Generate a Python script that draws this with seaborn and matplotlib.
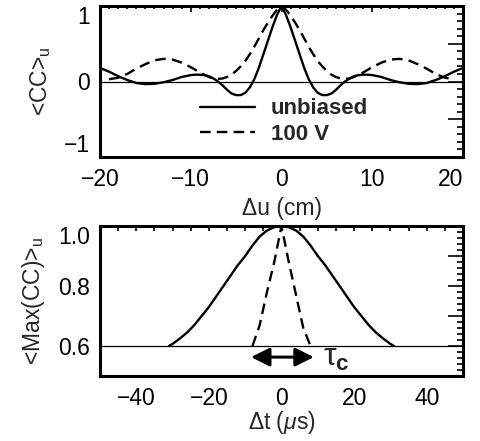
"""Cross-correlation profiles: spatial <CC> and temporal <Max(CC)>."""

import matplotlib
matplotlib.use("Agg")
import matplotlib.pyplot as plt
import pandas as pd
import seaborn as sns
from matplotlib.lines import Line2D
from matplotlib.ticker import FuncFormatter, MultipleLocator

# --- top panel: <CC>_u vs delta-u (cm) ---
du_unbiased = [-20, -19, -18, -17, -16, -15, -14, -13, -12, -11, -10, -9.5, -9, -8.5, -8,
               -7.5, -7, -6.5, -6, -5.5, -5, -4.5, -4, -3.5, -3, -2.5, -2, -1.5, -1, -0.5,
               0, 0.5, 1, 1.5, 2, 2.5, 3, 3.5, 4, 4.5, 5, 5.5, 6, 6.5, 7, 7.5, 8, 8.5, 9,
               9.5, 10, 11, 12, 13, 14, 15, 16, 17, 18, 19, 20]
cc_unbiased = [0.18, 0.13, 0.07, 0.02, -0.02, -0.035, -0.03, -0.01, 0.02, 0.06, 0.085, 0.09,
               0.09, 0.085, 0.07, 0.04, 0.0, -0.05, -0.11, -0.16, -0.18, -0.18, -0.15, -0.08,
               0.03, 0.18, 0.36, 0.54, 0.72, 0.88,
               1.0, 0.88, 0.72, 0.54, 0.36, 0.18, 0.03, -0.08, -0.15, -0.18, -0.18, -0.16,
               -0.11, -0.05, 0.0, 0.04, 0.07, 0.085, 0.09, 0.09, 0.085, 0.06, 0.02, -0.01,
               -0.03, -0.035, -0.02, 0.02, 0.07, 0.13, 0.18]

du_100v = [-19, -18, -17, -16, -15, -14, -13, -12, -11, -10, -9, -8, -7.5, -7, -6.5, -6,
           -5.5, -5, -4.5, -4, -3.5, -3, -2.5, -2, -1.5, -1, -0.5, 0, 0.5, 1, 1.5, 2, 2.5,
           3, 3.5, 4, 4.5, 5, 5.5, 6, 6.5, 7, 7.5, 8, 9, 10, 11, 12, 13, 14, 15, 16, 17,
           18, 19]
cc_100v = [0.03, 0.05, 0.1, 0.17, 0.23, 0.28, 0.3, 0.29, 0.25, 0.19, 0.12, 0.06, 0.04,
           0.035, 0.04, 0.06, 0.09, 0.14, 0.2, 0.27, 0.36, 0.46, 0.57, 0.68, 0.78, 0.87,
           0.95, 1.0, 0.95, 0.87, 0.78, 0.68, 0.57, 0.46, 0.36, 0.27, 0.2, 0.14, 0.09,
           0.06, 0.04, 0.035, 0.04, 0.06, 0.12, 0.19, 0.25, 0.29, 0.3, 0.28, 0.23, 0.17,
           0.1, 0.05, 0.03]

# --- bottom panel: <Max(CC)>_u vs delta-t (us) ---
dt_unbiased = [-31, -30, -28, -26, -24, -22, -20, -18, -16, -14, -12, -10, -8, -6, -4, -2,
               0, 2, 4, 6, 8, 10, 12, 14, 16, 18, 20, 22, 24, 26, 28, 30, 31]
mcc_unbiased = [0.6, 0.607, 0.625, 0.645, 0.67, 0.7, 0.73, 0.765, 0.8, 0.835, 0.87, 0.9,
                0.935, 0.965, 0.985, 0.996, 1.0, 0.996, 0.985, 0.965, 0.935, 0.9, 0.87,
                0.835, 0.8, 0.765, 0.73, 0.7, 0.67, 0.645, 0.625, 0.607, 0.6]

dt_100v = [-8, -6, -4, -2, -1, 0, 1, 2, 4, 6, 8]
mcc_100v = [0.6, 0.67, 0.78, 0.88, 0.94, 1.0, 0.94, 0.88, 0.77, 0.66, 0.6]

tau_c_span = [-8.4, 8.9]
tau_c_level = 0.563

sns.set_style("white")
plt.rcParams["font.family"] = ["Liberation Sans", "DejaVu Sans"]
plt.rcParams["mathtext.fontset"] = "custom"
plt.rcParams["mathtext.rm"] = "Liberation Sans"
plt.rcParams["mathtext.it"] = "Liberation Sans:italic"
plt.rcParams["mathtext.bf"] = "Liberation Sans:bold"

W, H = 480, 441
DASH = (0, (4.5, 2.6))
fig = plt.figure(figsize=(W / 100, H / 100), dpi=100)
ax1 = fig.add_axes([100 / W, 1 - 157 / H, 363 / W, 151 / H])
ax2 = fig.add_axes([100 / W, 1 - 376 / H, 363 / W, 150 / H])

top_a = pd.DataFrame({"du": du_unbiased, "cc": cc_unbiased})
top_b = pd.DataFrame({"du": du_100v, "cc": cc_100v})
sns.lineplot(data=top_a, x="du", y="cc", ax=ax1, color="black", lw=1.7, sort=False)
sns.lineplot(data=top_b, x="du", y="cc", ax=ax1, color="black", lw=1.7, sort=False,
             linestyle=DASH)
ax1.axhline(0, color="black", lw=0.9)

bot_a = pd.DataFrame({"dt": dt_unbiased, "m": mcc_unbiased})
bot_b = pd.DataFrame({"dt": dt_100v, "m": mcc_100v})
sns.lineplot(data=bot_a, x="dt", y="m", ax=ax2, color="black", lw=1.7, sort=False)
sns.lineplot(data=bot_b, x="dt", y="m", ax=ax2, color="black", lw=1.7, sort=False,
             linestyle=DASH)
ax2.axhline(0.6, color="black", lw=0.9)

ax2.annotate("", xy=(tau_c_span[0], tau_c_level), xytext=(tau_c_span[1], tau_c_level),
             arrowprops=dict(arrowstyle="<|-|>", color="black", lw=2.2,
                             mutation_scale=28, shrinkA=0, shrinkB=0))
ax2.text(11.5, tau_c_level - 0.003, "\u03c4" + r"$_{\mathbf{c}}$", fontsize=23,
         ha="left", va="center")

handles = [Line2D([], [], color="black", lw=1.7),
           Line2D([], [], color="black", lw=1.7, linestyle=DASH)]
ax1.legend(handles, ["unbiased", "100 V"], loc="center left",
           bbox_to_anchor=(0.275, 0.235), frameon=False, borderpad=0, borderaxespad=0,
           handlelength=2.5, handletextpad=0.7, labelspacing=0.2,
           prop=dict(weight="bold", size=16))

ax1.set_xlim(-20, 20)
ax1.set_ylim(-1, 1)
ax2.set_xlim(-50, 50)
ax2.set_ylim(0.5, 1.0)


def int_label(v, pos):
    return f"{int(round(v))}".replace("-", "\u2212")


ax1.xaxis.set_major_locator(MultipleLocator(10))
ax1.xaxis.set_minor_locator(MultipleLocator(1))
ax1.yaxis.set_major_locator(MultipleLocator(0.5))
ax1.yaxis.set_minor_locator(MultipleLocator(0.1))
ax1.yaxis.set_major_formatter(FuncFormatter(
    lambda v, p: "" if abs(v - round(v)) > 1e-6 else int_label(v, p)))
ax1.xaxis.set_major_formatter(FuncFormatter(int_label))

ax2.xaxis.set_major_locator(MultipleLocator(20))
ax2.xaxis.set_minor_locator(MultipleLocator(5))
ax2.yaxis.set_major_locator(MultipleLocator(0.1))
ax2.yaxis.set_minor_locator(MultipleLocator(0.02))
ax2.yaxis.set_major_formatter(FuncFormatter(
    lambda v, p: f"{v:.1f}" if round(v * 10) % 2 == 0 else ""))
ax2.xaxis.set_major_formatter(FuncFormatter(int_label))

for ax in (ax1, ax2):
    for s in ax.spines.values():
        s.set_linewidth(2.2)
        s.set_color("black")
    ax.tick_params(which="both", direction="in", top=True, right=True, width=1.2,
                   colors="black", labelsize=16.5)
    ax.tick_params(axis="x", which="major", pad=8)
    ax.tick_params(axis="y", which="major", pad=7)

ax1.tick_params(axis="x", which="major", length=4.5)
ax1.tick_params(axis="x", which="minor", length=2.2)
ax1.tick_params(axis="y", which="major", length=11)
ax1.tick_params(axis="y", which="minor", length=4.5)
ax2.tick_params(axis="x", which="both", length=3.6)
ax2.tick_params(axis="y", which="major", length=11)
ax2.tick_params(axis="y", which="minor", length=4.5)

ax1.set_xlabel("\u0394u (cm)", fontsize=16.5, labelpad=4)
ax1.set_ylabel(r"<CC>$_{\mathrm{u}}$", fontsize=16.5, labelpad=8)
ax2.set_xlabel(r"$\Delta$t ($\mu$s)", fontsize=16.5, labelpad=-1)
ax2.set_ylabel(r"<Max(CC)>$_{\mathrm{u}}$", fontsize=16.5, labelpad=8)

# end labels sit inside the frame, as in the original figure
fig.canvas.draw()
for lbl in ax1.get_yticklabels():
    if lbl.get_text() == "1":
        lbl.set_va("top")
    elif lbl.get_text() == "\u22121":
        lbl.set_va("bottom")
for lbl in ax2.get_yticklabels():
    if lbl.get_text() == "1.0":
        lbl.set_va("top")
for lbl in ax1.get_xticklabels():
    if lbl.get_text() == "20":
        lbl.set_ha("right")

fig.savefig("out.png", dpi=100)
